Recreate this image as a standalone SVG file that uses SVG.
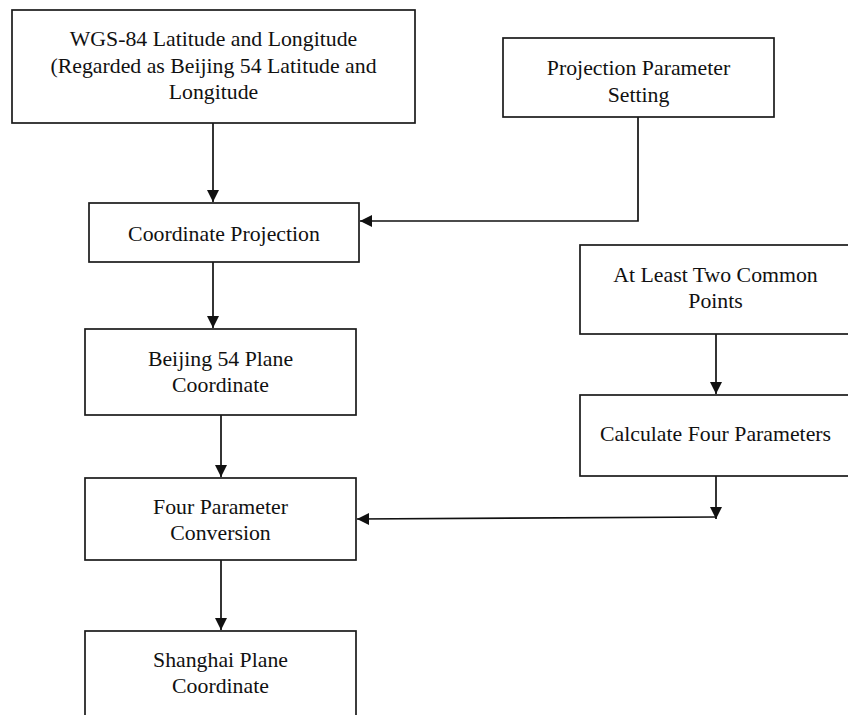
<svg xmlns="http://www.w3.org/2000/svg" width="848" height="715" viewBox="0 0 848 715">
<style>
.box{fill:#fff;stroke:#1a1a1a;stroke-width:1.7}
.lbl{font-family:"Liberation Serif","Times New Roman",serif;font-size:20px;fill:#111;text-anchor:middle}
.con{fill:none;stroke:#111;stroke-width:1.7}
</style>
<defs>
<marker id="ah" markerUnits="userSpaceOnUse" markerWidth="13" markerHeight="13" refX="12" refY="6.5" orient="auto" viewBox="0 0 13 13">
<path d="M0,0.5 L12,6.5 L0,12.5 Z" fill="#111"/>
</marker>
</defs>
<rect width="848" height="715" fill="#fff"/>
<g id="connectors">
<path class="con" d="M213,123 V202" marker-end="url(#ah)"/>
<path class="con" d="M638,117 V221 H360" marker-end="url(#ah)"/>
<path class="con" d="M213,262 V328" marker-end="url(#ah)"/>
<path class="con" d="M221,415 V477" marker-end="url(#ah)"/>
<path class="con" d="M221,560 V630" marker-end="url(#ah)"/>
<path class="con" d="M716,334 V394" marker-end="url(#ah)"/>
<path class="con" d="M716,476 V519" marker-end="url(#ah)"/>
<path class="con" d="M716,517 L357,519" marker-end="url(#ah)"/>
</g>
<g id="wgs84">
<rect class="box" x="12" y="10" width="403" height="113"/>
<text class="lbl" transform="translate(213.5,45.5) scale(1.09,1)">WGS-84 Latitude and Longitude</text>
<text class="lbl" transform="translate(213.5,72.5) scale(1.09,1)">(Regarded as Beijing 54 Latitude and</text>
<text class="lbl" transform="translate(213.5,99) scale(1.09,1)">Longitude</text>
</g>
<g id="projparam">
<rect class="box" x="503" y="38" width="271" height="79"/>
<text class="lbl" transform="translate(638.5,75) scale(1.09,1)">Projection Parameter</text>
<text class="lbl" transform="translate(638.5,101.5) scale(1.09,1)">Setting</text>
</g>
<g id="coordproj">
<rect class="box" x="89" y="203" width="270" height="59"/>
<text class="lbl" transform="translate(224,240.5) scale(1.09,1)">Coordinate Projection</text>
</g>
<g id="commonpts">
<rect class="box" x="580" y="245" width="272" height="89"/>
<text class="lbl" transform="translate(715.5,282) scale(1.09,1)">At Least Two Common</text>
<text class="lbl" transform="translate(715.5,308) scale(1.09,1)">Points</text>
</g>
<g id="beijing">
<rect class="box" x="85" y="329" width="271" height="86"/>
<text class="lbl" transform="translate(220.5,366) scale(1.09,1)">Beijing 54 Plane</text>
<text class="lbl" transform="translate(220.5,392) scale(1.09,1)">Coordinate</text>
</g>
<g id="calc">
<rect class="box" x="580" y="395" width="272" height="81"/>
<text class="lbl" transform="translate(715.5,441) scale(1.09,1)">Calculate Four Parameters</text>
</g>
<g id="fourparam">
<rect class="box" x="85" y="478" width="271" height="82"/>
<text class="lbl" transform="translate(220.5,514) scale(1.09,1)">Four Parameter</text>
<text class="lbl" transform="translate(220.5,540) scale(1.09,1)">Conversion</text>
</g>
<g id="shanghai">
<rect class="box" x="85" y="631" width="271" height="100"/>
<text class="lbl" transform="translate(220.5,667) scale(1.09,1)">Shanghai Plane</text>
<text class="lbl" transform="translate(220.5,693) scale(1.09,1)">Coordinate</text>
</g>
</svg>
